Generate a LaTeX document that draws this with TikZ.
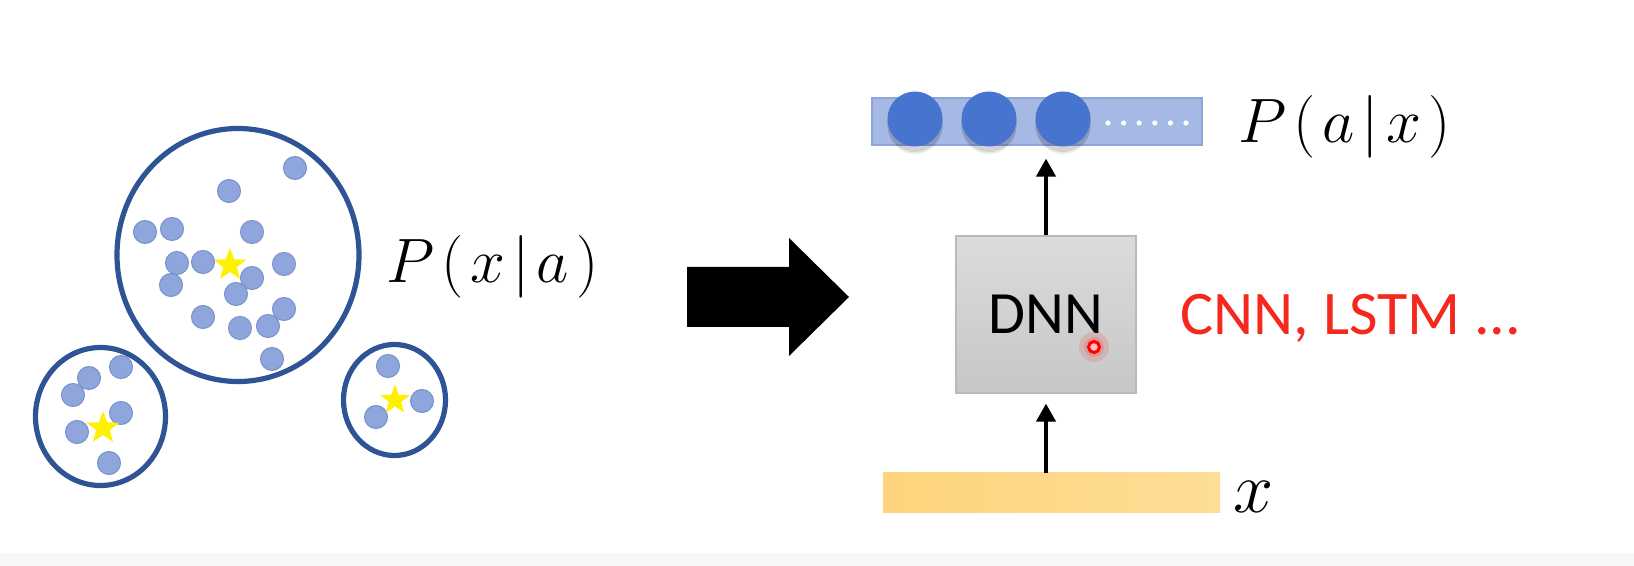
\documentclass[tikz,border=0pt]{standalone}
\usepackage{graphicx}
\usepackage{fontspec}
\newfontfamily\calib{Carlito}
\usetikzlibrary{shapes.geometric,arrows.meta}
\definecolor{ringblue}{HTML}{2F5496}
\definecolor{dotfill}{HTML}{8FA6DC}
\definecolor{dotedge}{HTML}{7890CC}
\definecolor{staryellow}{HTML}{FFF000}
\definecolor{barblue}{HTML}{A6B9E4}
\definecolor{baredge}{HTML}{8EA5DA}
\definecolor{ballblue}{HTML}{4674CE}
\definecolor{labelred}{HTML}{F5281E}
\definecolor{xleft}{HTML}{FDD47C}
\definecolor{xright}{HTML}{FEDD96}
\begin{document}
\begin{tikzpicture}[x=0.5pt,y=-0.5pt,
  dot/.style={circle,fill=dotfill,draw=dotedge,line width=0.5pt,minimum size=11.5pt,inner sep=0pt},
  starnode/.style={star,star points=5,star point ratio=2.4,fill=staryellow,minimum size=17pt,inner sep=0pt},
  cluster/.style={draw=ringblue,line width=2.6pt},
  ball/.style={circle,fill=ballblue,minimum size=27.5pt,inner sep=0pt},
  conn/.style={line width=2pt,-{Triangle[width=9.5pt,length=9pt]}},
  mathlabel/.style={inner sep=0pt,anchor=base west,font=\fontsize{24.88}{30}\selectfont},
]
\useasboundingbox (0,0) rectangle (1634,566);
\fill[white] (0,0) rectangle (1634,566);
\fill[black!3] (0,553) rectangle (1634,566);

% ---- big cluster ----
\node[starnode] (s1) at (230,265) {};
\foreach \x/\y [count=\i] in {295/168,229/191,145/232,172/229,252/232,177/263,203/262,171/285,252/278,284/264,236/294,203/317,240/328,268/326,284/309,272/359}
  \node[dot] (a\i) at (\x,\y) {};
\draw[cluster] (238,255) ellipse [x radius=121,y radius=126.5];

% ---- bottom-left cluster ----
\foreach \x/\y [count=\i] in {121/367,89/378,73/395,121/413,77/432,109/463}
  \node[dot] (b\i) at (\x,\y) {};
\node[starnode] (s2) at (103,428) {};
\draw[cluster] (100.5,416.5) ellipse [x radius=65,y radius=69];

% ---- bottom-right cluster ----
\foreach \x/\y [count=\i] in {388/366,422/401,376/417}
  \node[dot] (c\i) at (\x,\y) {};
\node[starnode,minimum size=15.5pt] (s3) at (395,400) {};
\draw[cluster] (394.5,400) ellipse [x radius=51,y radius=55.5];

\node[mathlabel] (pxa) at (386,283) {\scalebox{1.26}{$P\mkern2mu(\mkern2mu x\mkern2mu|\mkern2mu a\mkern2mu)$}};

% ---- block arrow ----
\fill[black] (687,267) -- (789,267) -- (789,238) -- (849,297) -- (789,356) -- (789,327) -- (687,327) -- cycle;

% ---- output bar ----
\node[rectangle,fill=barblue,draw=baredge,line width=0.6pt,minimum width=165pt,minimum height=23.5pt,inner sep=0pt] (outbar) at (1037,121.5) {};
\foreach \x [count=\i] in {915,989,1063}{
  \fill[black,opacity=0.10] (\x,124) circle [radius=28];
  \fill[black,opacity=0.08] (\x,127) circle [radius=27];
  \node[ball] (o\i) at (\x,119) {};
}
\foreach \x in {1108,1123.6,1139.2,1154.8,1170.4,1186}
  \fill[white] (\x,123) circle [radius=2.6];
\node[mathlabel] (pax) at (1238,143) {\scalebox{1.26}{$P\mkern2mu(\mkern2mu a\mkern2mu|\mkern2mu x\mkern2mu)$}};

% ---- DNN ----
\node[rectangle,top color=black!14,bottom color=black!22,draw=black!27,line width=0.6pt,
      minimum width=90pt,minimum height=78.5pt,inner sep=0pt,
      font=\calib\fontsize{30}{36}\selectfont] (dnn) at (1046,314.5) {DNN};
\fill[red,opacity=0.12] (1094,347) circle [radius=15];
\fill[red,opacity=0.15] (1094,347) circle [radius=10];
\draw[red,line width=1.5pt,fill=red!25] (1094,347) circle [radius=5.5];

\node[inner sep=0pt,anchor=base west,text=labelred,font=\calib\fontsize{31}{36}\selectfont] (cnn) at (1180,335) {CNN, LSTM ...};

% ---- input bar ----
\node[rectangle,left color=xleft,right color=xright,minimum width=168.5pt,minimum height=20pt,inner sep=0pt] (xbar) at (1051.5,493) {};
\node[mathlabel] (xlab) at (1233,513) {\scalebox{1.45}{$x$}};

% ---- connectors ----
\draw[conn,shorten >=6.5pt] (dnn.north) -- (dnn.north |- outbar.south);
\draw[conn,shorten >=5pt] (xbar.north -| dnn.south) -- (dnn.south);
\end{tikzpicture}
\end{document}
